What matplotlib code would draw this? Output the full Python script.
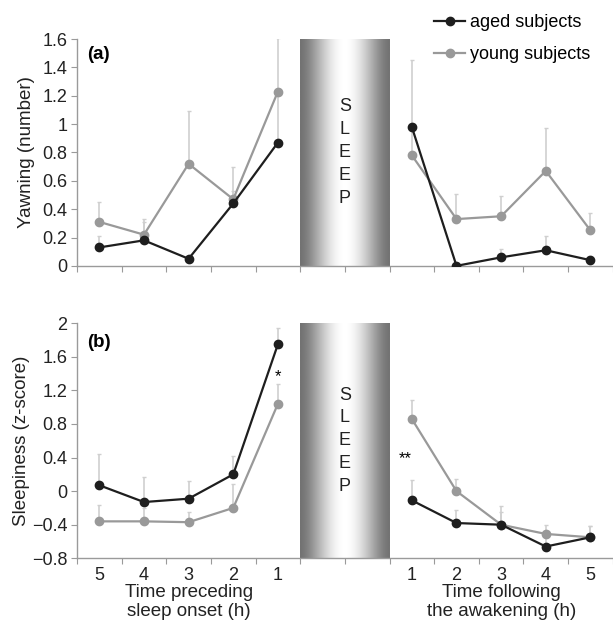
import numpy as np
import matplotlib
matplotlib.use("Agg")
import matplotlib.pyplot as plt
from matplotlib.ticker import FuncFormatter

plt.rcParams["font.family"] = ["Liberation Sans", "DejaVu Sans"]

# hours before sleep onset (left block) and after awakening (right block)
before_labels = ["5", "4", "3", "2", "1"]
after_labels = ["1", "2", "3", "4", "5"]

# (a) yawning, number
yawn_aged_before = [0.13, 0.18, 0.05, 0.44, 0.87]
yawn_aged_after = [0.98, 0.00, 0.06, 0.11, 0.04]
yawn_young_before = [0.31, 0.22, 0.72, 0.47, 1.23]
yawn_young_after = [0.78, 0.33, 0.35, 0.67, 0.25]
yawn_aged_top_before = [0.21, 0.31, 0.07, 0.53, 1.25]
yawn_aged_top_after = [1.45, 0.02, 0.12, 0.21, 0.07]
yawn_young_top_before = [0.45, 0.33, 1.09, 0.70, 1.61]
yawn_young_top_after = [0.95, 0.51, 0.49, 0.97, 0.37]

# (b) sleepiness, z-score
sleep_aged_before = [0.07, -0.13, -0.09, 0.20, 1.75]
sleep_aged_after = [-0.11, -0.38, -0.40, -0.66, -0.55]
sleep_young_before = [-0.36, -0.36, -0.37, -0.20, 1.04]
sleep_young_after = [0.86, 0.00, -0.40, -0.51, -0.55]
sleep_aged_top_before = [0.44, 0.17, 0.12, 0.42, 1.94]
sleep_aged_top_after = [0.13, -0.22, -0.18, -0.55, -0.42]
sleep_young_top_before = [-0.17, -0.20, -0.25, 0.08, 1.28]
sleep_young_top_after = [1.09, 0.14, -0.25, -0.40, -0.42]

AGED = "#1e1e1e"
YOUNG = "#999999"
ERR = "#cfcfcf"
SPINE = "#9a9a9a"

x_before = np.arange(5)
x_after = np.arange(7, 12)


def minus_fmt(v, _pos):
    s = f"{v:.1f}".rstrip("0").rstrip(".")
    if s in ("-0", "0"):
        return "0"
    return s.replace("-", "\u2212")


def draw_panel(ax, aged_b, aged_a, young_b, young_a,
               at_b, at_a, yt_b, yt_a, ylim, yticks, sleep_y):
    # sleep band: dark edges, bright centre
    t = np.linspace(-1, 1, 256)
    shade = 0.45 + 0.55 * np.cos(t * np.pi / 2) ** 1.6
    ax.imshow(shade[None, :], cmap="gray", vmin=0, vmax=1, aspect="auto",
              extent=(4.5, 6.5, ylim[0], ylim[1]), zorder=0)

    for xs, m, top in [(x_before, young_b, yt_b), (x_after, young_a, yt_a),
                       (x_before, aged_b, at_b), (x_after, aged_a, at_a)]:
        m = np.asarray(m)
        up = np.clip(np.asarray(top) - m, 0, None)
        ax.errorbar(xs, m, yerr=[np.zeros_like(up), up], fmt="none",
                    ecolor=ERR, elinewidth=1.2, capsize=1.5, capthick=1,
                    zorder=1)

    for xs, vals in [(x_before, young_b), (x_after, young_a)]:
        ax.plot(xs, vals, color=YOUNG, lw=1.6, marker="o", ms=6,
                mec=YOUNG, zorder=2)
    for xs, vals in [(x_before, aged_b), (x_after, aged_a)]:
        ax.plot(xs, vals, color=AGED, lw=1.6, marker="o", ms=6,
                mec=AGED, zorder=3)

    ax.set_xlim(-0.5, 11.5)
    ax.set_ylim(*ylim)
    ax.set_yticks(yticks)
    ax.yaxis.set_major_formatter(FuncFormatter(minus_fmt))
    ax.set_xticks(np.arange(-0.5, 12, 1))
    ax.set_xticks(np.arange(12), minor=True)
    ax.tick_params(axis="x", which="major", length=4, color=SPINE,
                   labelbottom=False)
    ax.tick_params(axis="x", which="minor", length=0, labelsize=13,
                   colors="#222222", pad=6)
    ax.tick_params(axis="y", length=4, color=SPINE, labelsize=13,
                   labelcolor="#222222", pad=3)
    for side in ("top", "right"):
        ax.spines[side].set_visible(False)
    for side in ("left", "bottom"):
        ax.spines[side].set_color(SPINE)
        ax.spines[side].set_linewidth(1.0)
    ax.text(5.5, sleep_y, "S\nL\nE\nE\nP",
            ha="center", va="center", fontsize=13, linespacing=1.45,
            color="#222222")


fig = plt.figure(figsize=(6.13, 6.36), dpi=100)
ax_a = fig.add_axes([0.1256, 0.582, 0.874, 0.3565])
ax_b = fig.add_axes([0.1256, 0.1222, 0.874, 0.3695])

draw_panel(ax_a, yawn_aged_before, yawn_aged_after, yawn_young_before,
           yawn_young_after, yawn_aged_top_before, yawn_aged_top_after,
           yawn_young_top_before, yawn_young_top_after,
           (0, 1.6), np.arange(0, 1.61, 0.2), 0.8)
draw_panel(ax_b, sleep_aged_before, sleep_aged_after, sleep_young_before,
           sleep_young_after, sleep_aged_top_before, sleep_aged_top_after,
           sleep_young_top_before, sleep_young_top_after,
           (-0.8, 2.0), np.arange(-0.8, 2.01, 0.4), 0.6)

ax_b.set_xticklabels(before_labels + ["", ""] + after_labels, minor=True)

ax_a.set_ylabel("Yawning (number)", fontsize=13.5, color="#222222",
                labelpad=5)
ax_b.set_ylabel("Sleepiness (z-score)", fontsize=13.5, color="#222222",
                labelpad=1)

ax_a.text(0.018, 0.93, "(a)", transform=ax_a.transAxes, fontsize=13.5,
          fontweight="bold", va="center", ha="left")
ax_b.text(0.018, 0.92, "(b)", transform=ax_b.transAxes, fontsize=13.5,
          fontweight="bold", va="center", ha="left")

ax_b.text(4, 1.37, "*", ha="center", va="center", fontsize=12)
ax_b.text(6.85, 0.39, "**", ha="center", va="center", fontsize=12)

fig.text(ax_b.transData.transform((2, 0))[0] / fig.bbox.width, 0.053,
         "Time preceding\nsleep onset (h)", ha="center", va="center",
         fontsize=13.5, color="#222222", linespacing=1.15)
fig.text(ax_b.transData.transform((9, 0))[0] / fig.bbox.width, 0.053,
         "Time following\nthe awakening (h)", ha="center", va="center",
         fontsize=13.5, color="#222222", linespacing=1.15)

h_aged, = ax_a.plot([], [], color=AGED, lw=1.6, marker="o", ms=6)
h_young, = ax_a.plot([], [], color=YOUNG, lw=1.6, marker="o", ms=6)
fig.legend([h_aged, h_young], ["aged subjects", "young subjects"],
           loc="upper left", bbox_to_anchor=(0.688, 0.998), frameon=False,
           fontsize=13, handlelength=1.7, handletextpad=0.3,
           labelspacing=0.85, borderaxespad=0.3)

fig.savefig("out.png", dpi=100)
